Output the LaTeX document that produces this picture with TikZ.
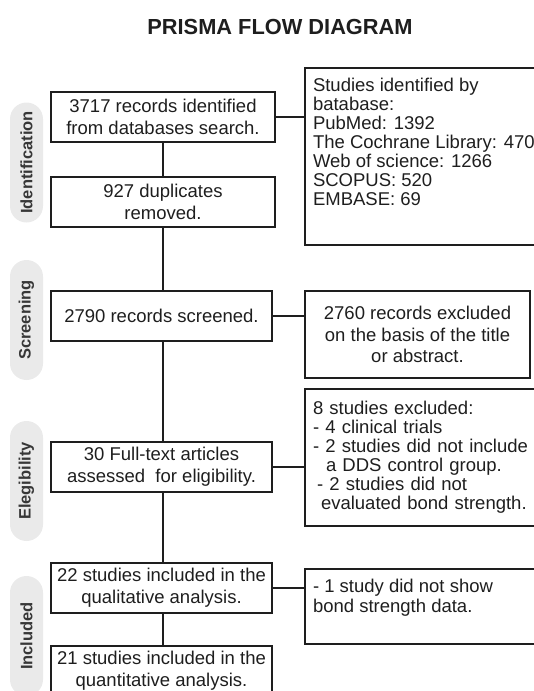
\documentclass[tikz,border=0pt]{standalone}
\usepackage{fontspec}
\setmainfont{Liberation Sans}
\usepackage{tikz}
\usepackage{xcolor}
\usetikzlibrary{positioning}
\definecolor{ink}{RGB}{30,30,30}
\definecolor{pillgray}{RGB}{234,234,234}
\definecolor{pilltext}{RGB}{55,55,55}

\begin{document}
\begin{tikzpicture}[x=1pt,y=-1pt,
  every node/.style={font=\fontsize{18.5}{21.7}\selectfont,text=ink,outer sep=0pt},
  stagebox/.style={draw=ink,line width=1.8pt,align=center,minimum width=224pt,minimum height=50pt,inner sep=3pt},
  notebox/.style={draw=ink,line width=1.8pt,align=left,inner xsep=8pt,inner ysep=10pt},
  phase/.style={fill=pillgray,rounded corners=16.5pt,minimum height=33pt,minimum width=120pt,rotate=90,text=pilltext,font=\bfseries\fontsize{16.5}{18}\selectfont},
  link/.style={draw=ink,line width=1.8pt}]
\useasboundingbox (0,0) rectangle (534,691);
\node[font=\bfseries\fontsize{21.8}{24}\selectfont] (title) at (280,27) {PRISMA FLOW DIAGRAM};
% phases
\node[phase] (idph) at (26.5,162.5) {Identification};
\node[phase] (scrph) at (26.5,320) {Screening};
\node[phase] (eligph) at (26.5,481) {Elegibility};
\node[phase] (incph) at (26.5,636) {Included};
% main column
\node[stagebox,anchor=north west] (rec) at (51,92) {3717 records identified\\from databases search.};
\node[stagebox,below=35pt of rec] (dup) {927 duplicates\\removed.};
\node[stagebox,minimum width=221pt,below=64pt of dup.south west,anchor=north west] (scr) {2790 records screened.};
\node[stagebox,minimum width=221pt,below=101pt of scr.south west,anchor=north west] (full) {30 Full-text articles\\assessed\ \ for eligibility.};
\node[stagebox,minimum width=221pt,below=71pt of full.south west,anchor=north west] (qual) {22 studies included in the\\qualitative analysis.};
\node[stagebox,minimum width=221pt,below=33pt of qual.south west,anchor=north west] (quant) {21 studies included in the\\quantitative analysis.};
% side boxes
\node[notebox,right=30pt of rec.north east,anchor=north west,yshift=24pt,font=\fontsize{18.5}{19}\selectfont] (db)
  {\parbox[c][157pt][t]{244pt}{Studies identified by\\batabase:\\PubMed: 1392\\The Cochrane Library: 470\\Web of science: 1266\\SCOPUS: 520\\EMBASE: 69}};
\node[notebox,align=center,minimum width=225pt,minimum height=87pt,right=33pt of scr.north east,anchor=north west] (excl1)
  {2760 records excluded\\on the basis of the title\\or abstract.};
\node[notebox,text width=244pt,minimum height=137pt,below=11pt of excl1.south west,anchor=north west,font=\fontsize{18.5}{19}\selectfont] (excl2)
  {8 studies excluded:\\- 4 clinical trials\\- 2 studies did not include\\\hspace*{13pt}a DDS control group.\\\hspace*{4pt}- 2 studies did not\\\hspace*{8pt}evaluated bond strength.};
\node[notebox,right=33pt of qual.north east,anchor=north west,yshift=-6pt,font=\fontsize{18.5}{20}\selectfont] (bond)
  {\parbox[c][55pt][t]{244pt}{- 1 study did not show\\bond strength data.}};
% connectors
\draw[link] (rec) -- (dup);
\draw[link] (dup) -- (dup |- scr.north);
\draw[link] (scr.south -| dup) -- (dup |- full.north);
\draw[link] (full.south -| dup) -- (dup |- qual.north);
\draw[link] (qual.south -| dup) -- (dup |- quant.north);
\draw[link] (rec.east) -- (rec.east -| db.west);
\draw[link] (scr.east) -- (scr.east -| excl1.west);
\draw[link] (full.east) -- (full.east -| excl2.west);
\draw[link] (qual.east) -- (qual.east -| bond.west);
\end{tikzpicture}
\end{document}
